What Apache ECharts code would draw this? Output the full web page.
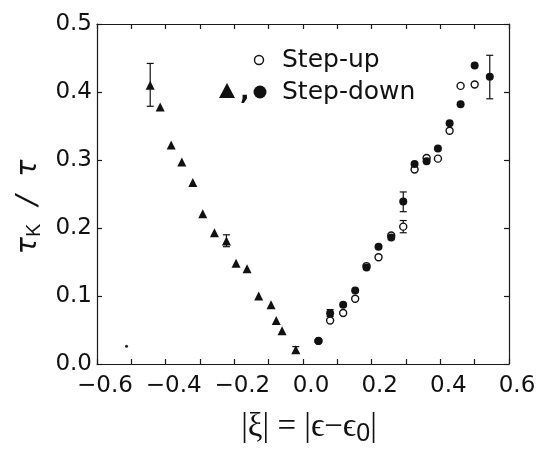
<!DOCTYPE html>
<html>
<head>
<meta charset="utf-8">
<script src="https://cdn.jsdelivr.net/npm/echarts@6/dist/echarts.min.js"></script>
<style>
  html, body { margin: 0; padding: 0; background: #fff; }
  #chart { width: 548px; height: 450px; }
</style>
</head>
<body>
<div id="chart"></div>
<script>
// step-down, negative side (triangles)
const triX = [-0.445, -0.416, -0.384, -0.353, -0.321, -0.292, -0.258, -0.223, -0.195, -0.163, -0.129, -0.093, -0.078, -0.061, -0.021]
const triY = [0.410, 0.378, 0.322, 0.297, 0.267, 0.221, 0.193, 0.181, 0.148, 0.140, 0.100, 0.087, 0.064, 0.049, 0.021]

// positive side
const circX = [0.045, 0.079, 0.117, 0.152, 0.185, 0.220, 0.257, 0.292, 0.325, 0.360, 0.393, 0.427, 0.459, 0.500, 0.544]
const upY = [0.034, 0.064, 0.075, 0.096, 0.144, 0.157, 0.189, 0.202, 0.286, 0.303, 0.302, 0.343, 0.409, 0.411, null]
const downY = [0.034, 0.0745, 0.087, 0.108, 0.142, 0.1725, 0.186, 0.239, 0.294, 0.298, 0.317, 0.354, 0.382, 0.439, 0.4225]

// error bars: x, low, high
const errX = [-0.445, -0.223, -0.021, 0.079, 0.292, 0.292, 0.544]
const errLo = [0.379, 0.1725, 0.0157, 0.070, 0.193, 0.224, 0.390]
const errHi = [0.442, 0.190, 0.0255, 0.080, 0.211, 0.253, 0.454]

// stray speck in the original figure
const speckX = [-0.514]
const speckY = [0.026]

const yTicks = ['0.0', '0.1', '0.2', '0.3', '0.4', '0.5']

const zip = (xs, ys) => xs.map((x, i) => [x, ys[i]]).filter(p => p[1] != null)

const chart = echarts.init(document.getElementById('chart'))

const axisFont = 'DejaVu Sans, sans-serif'
const lineStyle = { color: '#1a1a1a', width: 1.2 }

const frameAxis = {
  type: 'value',
  interval: 0.1,
  splitLine: { show: false },
  axisLine: { show: true, onZero: false, lineStyle },
  axisTick: { inside: true, length: 5, lineStyle }
}

const option = {
  backgroundColor: '#fff',
  animation: false,
  grid: { left: 97, right: 39, top: 24, bottom: 86, outerBoundsMode: 'none', containLabel: false },
  xAxis: [
    {
      ...frameAxis,
      min: -0.6,
      max: 0.6,
      position: 'bottom',
      axisLabel: {
        margin: 11,
        padding: [0, 0, 0, 16],
        fontSize: 23,
        fontFamily: axisFont,
        color: '#111',
        formatter: v => {
          const k = Math.round(v * 10)
          if (k % 2 !== 0) return ''
          return (k < 0 ? '\u2212' : '') + Math.abs(v).toFixed(1)
        }
      },
      name: '{t||ξ| = |ϵ−ϵ}{s|0}{t||}',
      nameLocation: 'middle',
      nameGap: 44,
      nameTextStyle: {
        padding: [0, 0, 0, 12],
        rich: {
          t: { fontFamily: 'Liberation Serif, Times New Roman, serif', fontSize: 33, color: '#111' },
          s: { fontFamily: 'Liberation Sans, Arial, sans-serif', fontSize: 25, color: '#111', padding: [14, 0, 0, 0] }
        }
      }
    },
    {
      ...frameAxis,
      min: -0.6,
      max: 0.6,
      position: 'top',
      axisLabel: { show: false }
    }
  ],
  yAxis: [
    {
      ...frameAxis,
      min: 0,
      max: 0.5,
      position: 'left',
      axisLabel: {
        margin: 5,
        fontSize: 23,
        fontFamily: axisFont,
        color: '#111',
        formatter: v => yTicks[Math.round(v * 10)]
      },
      name: '{t|τ}{s|K}{t|  /  τ}',
      nameLocation: 'middle',
      nameGap: 50,
      nameTextStyle: {
        padding: [0, 26, 0, 0],
        rich: {
          t: { fontFamily: 'DejaVu Sans, sans-serif', fontStyle: 'italic', fontSize: 29, color: '#111' },
          s: { fontFamily: 'Liberation Sans, Arial, sans-serif', fontSize: 20, color: '#111', padding: [12, 0, 0, 0] }
        }
      }
    },
    {
      ...frameAxis,
      min: 0,
      max: 0.5,
      position: 'right',
      axisLabel: { show: false }
    }
  ],
  graphic: [
    { type: 'circle', shape: { cx: 259, cy: 60, r: 4.5 }, style: { fill: '#fff', stroke: '#111', lineWidth: 1.4 } },
    { type: 'text', left: 282, top: 48, style: { text: 'Step-up', fontSize: 25, fontFamily: axisFont, fill: '#111' } },
    { type: 'polygon', shape: { points: [[227, 83], [219, 98], [235, 98]] }, style: { fill: '#111' } },
    { type: 'text', left: 240, top: 80, style: { text: ',', fontSize: 25, fontFamily: axisFont, fontWeight: 'bold', fill: '#111' } },
    { type: 'circle', shape: { cx: 260, cy: 92, r: 6.5 }, style: { fill: '#111' } },
    { type: 'text', left: 282, top: 80, style: { text: 'Step-down', fontSize: 25, fontFamily: axisFont, fill: '#111' } }
  ],
  series: [
    {
      name: 'errors',
      type: 'custom',
      data: errX.map((x, i) => [x, errLo[i], errHi[i]]),
      encode: { x: 0, y: [1, 2] },
      renderItem: (params, api) => {
        const x = api.value(0)
        const top = api.coord([x, api.value(2)])
        const bot = api.coord([x, api.value(1)])
        const w = 3.5
        const st = { stroke: '#111', lineWidth: 1.2 }
        return {
          type: 'group',
          children: [
            { type: 'line', shape: { x1: top[0], y1: top[1], x2: bot[0], y2: bot[1] }, style: st },
            { type: 'line', shape: { x1: top[0] - w, y1: top[1], x2: top[0] + w, y2: top[1] }, style: st },
            { type: 'line', shape: { x1: bot[0] - w, y1: bot[1], x2: bot[0] + w, y2: bot[1] }, style: st }
          ]
        }
      },
      z: 1
    },
    {
      name: 'Step-up',
      type: 'scatter',
      data: zip(circX, upY),
      symbol: 'circle',
      symbolSize: 7,
      itemStyle: { color: '#fff', borderColor: '#111', borderWidth: 1.4, opacity: 1 },
      z: 2
    },
    {
      name: 'Step-down',
      type: 'scatter',
      data: zip(circX, downY),
      symbol: 'circle',
      symbolSize: 8,
      itemStyle: { color: '#111', opacity: 1 },
      z: 3
    },
    {
      name: 'Step-down (neg)',
      type: 'scatter',
      data: zip(triX, triY),
      symbol: 'triangle',
      symbolSize: 9,
      itemStyle: { color: '#111', opacity: 1 },
      z: 3
    },
    {
      name: 'speck',
      type: 'scatter',
      data: zip(speckX, speckY),
      symbol: 'circle',
      symbolSize: 3,
      itemStyle: { color: '#222', opacity: 1 },
      z: 3
    }
  ]
}

chart.setOption(option)
</script>
</body>
</html>
